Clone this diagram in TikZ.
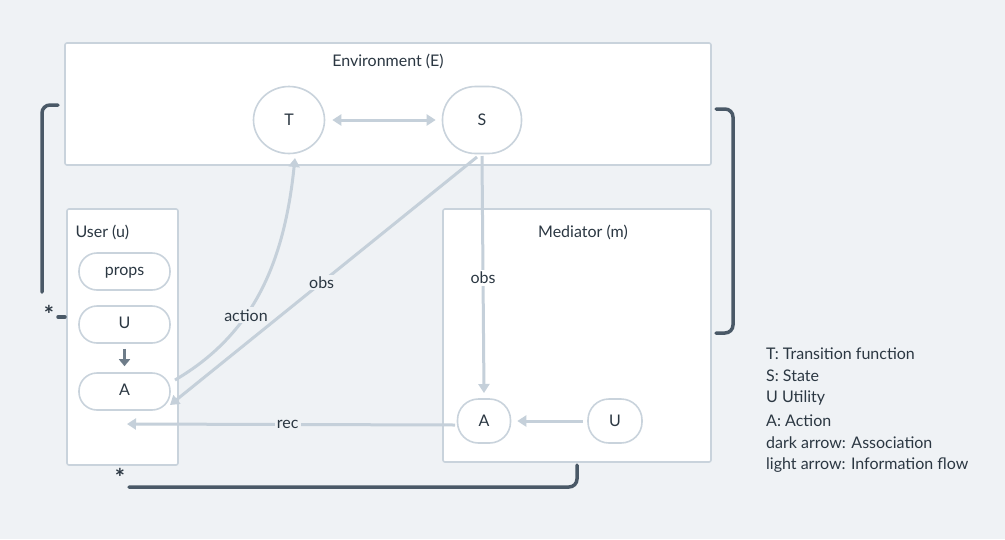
\documentclass[tikz,border=0pt]{standalone}
\usepackage{fontspec}
\setmainfont{Lato}
\usetikzlibrary{arrows.meta,shapes.geometric}
\definecolor{bg}{HTML}{EFF2F5}
\definecolor{edge}{HTML}{C9D3DC}
\definecolor{flow}{HTML}{C5D0DA}
\definecolor{dark}{HTML}{4A5967}
\definecolor{mid}{HTML}{6E7C89}
\definecolor{ink}{HTML}{2B3742}
\begin{document}
\begin{tikzpicture}[x=1pt,y=-1pt,
  every node/.style={font=\fontsize{16}{18}\selectfont, text=ink},
  panel/.style={draw=edge, line width=1.6pt, fill=white, rounded corners=2pt},
  pill/.style={draw=edge, line width=1.6pt, fill=white, rounded corners=18pt, minimum width=91pt, minimum height=37pt, inner sep=0pt, text height=1.6ex, text depth=0.2ex},
  blob/.style={draw=edge, line width=1.6pt, fill=white, inner sep=0pt},
  info/.style={draw=flow, line width=3pt, -{Triangle[length=9pt,width=11pt]}},
  assoc/.style={draw=dark, line width=3.5pt, line cap=round, rounded corners=8pt},
  lab/.style={fill=bg, inner sep=2pt},
  star/.style={font=\fontsize{24}{24}\selectfont\bfseries, inner sep=0pt, text=ink},
  legend/.style={anchor=west, inner sep=0pt}]
\fill[bg] (0,0) rectangle (1005,539);
\useasboundingbox (0,0) rectangle (1005,539);
% panels
\draw[panel] (65,43) rectangle (711,165);
\node (envt) at (388,61) {Environment (E)};
\draw[panel] (67,209) rectangle (178,465);
\node[anchor=west] (usert) at (72,232) {User (u)};
\draw[panel] (443,209) rectangle (711,462);
\node (medt) at (583,232) {Mediator (m)};
% nodes
\node[blob, ellipse, minimum width=71pt, minimum height=67pt] (T) at (289,120) {T};
\node[blob, rounded corners=33pt, minimum width=79pt, minimum height=67pt] (S) at (482,120) {S};
\node[pill] (props) at (124.5,271.5) {props};
\node[pill] (UU) at (124.5,324.5) {U};
\node[pill] (UA) at (124.5,391.5) {A};
\node[blob, rounded corners=21pt, minimum width=53pt, minimum height=44pt] (MA) at (484,421) {A};
\node[blob, rounded corners=21pt, minimum width=54pt, minimum height=44pt] (MU) at (615,421) {U};
% coordinates for connector ends
\coordinate (Tb) at (295,158);
\coordinate (Sbl) at (477,157);
\coordinate (Sb) at (482,156);
\coordinate (MAt) at (484,393);
\coordinate (UAr) at (175,380);
\coordinate (UAr2) at (170,405);
\coordinate (UAb) at (127,424);
\coordinate (MAw) at (455,425);
% info flows
\draw[flow, line width=3pt, {Triangle[length=9pt,width=11pt]}-{Triangle[length=9pt,width=11pt]}] ([xshift=7pt]T.east) -- ([xshift=-6pt]S.west);
\draw[info] (UAr) .. controls (252,335) and (284,265) .. (Tb) node[lab, pos=0.39] {action};
\draw[info] (Sbl) -- (UAr2) node[lab, pos=0.506] {obs};
\draw[info] (Sb) -- (MAt) node[lab, fill=white, pos=0.515] {obs};
\draw[info] (MAw) -- (UAb) node[lab, pos=0.51] {rec};
\draw[info] ([xshift=-4pt]MU.west) -- ([xshift=6pt]MA.east);
\draw[draw=mid, line width=3pt, -{Triangle[length=7pt,width=11pt]}] ([yshift=-5pt]UU.south) -- ([yshift=6pt]UA.north);
% associations
\coordinate (la) at (58,105);
\coordinate (lb) at (42,292);
\draw[assoc] (la) -- (42,105) -- (lb);
\node[star] (star1) at (49,314) {*};
\coordinate (da) at (58,317);
\coordinate (db) at (65,317);
\draw[assoc] (da) -- (db);
\coordinate (ra) at (716,109);
\coordinate (rb) at (716,333);
\draw[assoc] (ra) -- (733,109) -- (733,333) -- (rb);
\coordinate (ba) at (577,465);
\coordinate (bb) at (129,487);
\draw[assoc] (ba) -- (577,487) -- (bb);
\node[star] (star2) at (120,477) {*};
% legend
\node[legend] (l1) at (766,354) {T: Transition function};
\node[legend] (l2) at (766,376) {S: State};
\node[legend] (l3) at (766,398) {U Utility};
\node[legend] (l4) at (766,421) {A: Action};
\node[legend] (l5) at (766,443) {dark arrow: Association};
\node[legend] (l6) at (766,465) {light arrow: Information flow};
\end{tikzpicture}
\end{document}
